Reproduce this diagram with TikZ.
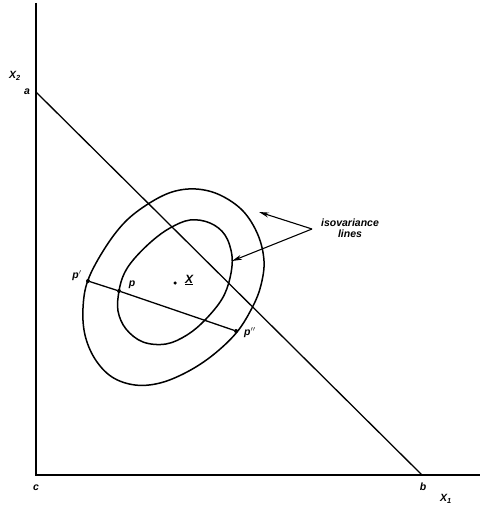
\documentclass[tikz,border=0pt]{standalone}
\usepackage{fontspec}
\setmainfont{Liberation Sans}
\usetikzlibrary{arrows.meta}
\tikzset{
  lbl/.style={font=\fontsize{10.5}{12}\selectfont\bfseries\itshape, inner sep=0pt},
  curve/.style={line width=1.5pt},
  axis/.style={line width=1.6pt},
  pt/.style={circle, fill=black, inner sep=0pt, minimum size=4pt},
  pointer/.style={line width=1.1pt, -{Stealth[length=10pt,width=5pt]}}
}
\begin{document}
\begin{tikzpicture}[x=1pt,y=-1pt]
\useasboundingbox (0,0) rectangle (483,508);
% axes
\coordinate (top) at (36,3);
\coordinate (c) at (36,475);
\coordinate (right) at (480,475);
\coordinate (a) at (36,92);
\coordinate (b) at (422,475);
\draw[axis] (top) -- (c) -- (right);
\draw[line width=1.3pt] (a) -- (b);
% labels on axes
\node[lbl] (X2) at (15,76) {X\textsubscript{2}};
\node[lbl] (la) at (27,92) {a};
\node[lbl] (lc) at (36,488) {c};
\node[lbl] (lb) at (423,487) {b};
\node[lbl] (X1) at (446,499) {X\textsubscript{1}};
% outer isovariance line
\draw[curve] plot[smooth cycle, tension=0.6] coordinates {
  (88,280) (105,248) (125,222) (148,204) (172,192) (196,189) (220,195)
  (243,211) (258,235) (264,261) (261,285) (253,306) (237,332) (213,355)
  (187,372) (160,383) (135,385) (112,377) (95,359) (85,335) (83,308)};
% inner isovariance line
\draw[curve] plot[smooth cycle, tension=0.6] coordinates {
  (119,291) (124,274) (134,259) (152,241) (170,228) (190,220) (210,223)
  (225,235) (232,256) (230,278) (222,299) (205,320) (187,335) (166,344)
  (143,342) (126,329) (118,311)};
% points
\node[pt] (pp) at (88,281) {};
\node[pt] (p) at (119,291) {};
\node[pt] (ppp) at (236,331) {};
\node[pt, minimum size=3.5pt] (Xbar) at (175,283) {};
\draw[line width=1.3pt] (pp) -- (p) -- (ppp);
\node[lbl] (lpp) at (77,276) {p$'$};
\node[lbl] (lp) at (132,285) {p};
\node[lbl] (lppp) at (250,333) {p$''$};
\node[lbl, font=\fontsize{12}{14}\selectfont\bfseries\itshape] (lX) at (189,280) {\underline{X}};
% isovariance label and pointers
\node[lbl, align=center] (iso) at (350,228) {isovariance\\[-1pt]lines};
\coordinate (meet) at (312,229);
\coordinate (tipout) at (259,212);
\coordinate (tipin) at (232,261);
\draw[pointer] (meet) -- (tipout);
\draw[pointer] (meet) -- (tipin);
\end{tikzpicture}
\end{document}
